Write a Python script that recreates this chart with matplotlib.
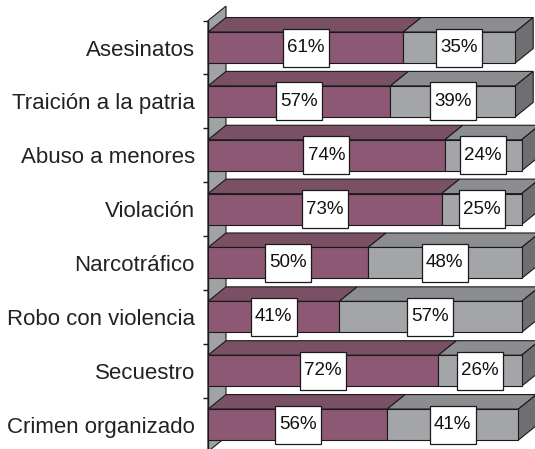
import matplotlib
matplotlib.use("Agg")
import matplotlib.pyplot as plt
from matplotlib.patches import Polygon, Rectangle

categories = ["Asesinatos", "Traición a la patria", "Abuso a menores", "Violación",
              "Narcotráfico", "Robo con violencia", "Secuestro", "Crimen organizado"]
serie_a = [61, 57, 74, 73, 50, 41, 72, 56]
serie_b = [35, 39, 24, 25, 48, 57, 26, 41]

plt.rcParams['font.family'] = ['Liberation Sans', 'DejaVu Sans']

W, H = 535, 449
fig = plt.figure(figsize=(W / 100, H / 100), dpi=100)
fig.patch.set_facecolor('white')

# plot area (front plane) in pixels
left_px, right_px = 208, 528
top_px, bot_px = 20.6, 451.5
ax = fig.add_axes([left_px / W, (H - bot_px) / H, (right_px - left_px) / W, (bot_px - top_px) / H])
ax.set_xlim(0, 100)
n = len(categories)
ax.set_ylim(n - 0.5, -0.5)
ax.set_facecolor('none')

px_x = (right_px - left_px) / 100.0
px_y = (bot_px - top_px) / n
dx = 18 / px_x
dy = -14.5 / px_y
h = 31 / px_y

c_a, c_a_top = '#8C5874', '#7A5064'
c_b, c_b_top, c_side = '#A3A5A8', '#8C8D90', '#6E6F71'
edge = '#1a1a1a'
lw = 0.8

# left wall
wall = Polygon([(0, -0.5), (0, n - 0.5), (dx, n - 0.5 + dy), (dx, -0.5 + dy)],
               closed=True, facecolor='#A0A2A5', edgecolor=edge, lw=lw, clip_on=False, zorder=1)
ax.add_patch(wall)

for i, (a, b) in enumerate(zip(serie_a, serie_b)):
    yt = i - h / 2
    yb = i + h / 2
    z = 2 + i
    ax.add_patch(Polygon([(0, yt), (a, yt), (a + dx, yt + dy), (dx, yt + dy)], closed=True,
                         facecolor=c_a_top, edgecolor=edge, lw=lw, clip_on=False, zorder=z))
    ax.add_patch(Polygon([(a, yt), (a + b, yt), (a + b + dx, yt + dy), (a + dx, yt + dy)], closed=True,
                         facecolor=c_b_top, edgecolor=edge, lw=lw, clip_on=False, zorder=z))
    ax.add_patch(Polygon([(a + b, yt), (a + b, yb), (a + b + dx, yb + dy), (a + b + dx, yt + dy)], closed=True,
                         facecolor=c_side, edgecolor=edge, lw=lw, clip_on=False, zorder=z))
    ax.barh(i, a, height=h, left=0, color=c_a, edgecolor=edge, lw=lw, clip_on=False, zorder=z)
    ax.barh(i, b, height=h, left=a, color=c_b, edgecolor=edge, lw=lw, clip_on=False, zorder=z)
    bw = 46 / px_x
    bh = 38 / px_y
    for cx, v in ((a / 2, a), (a + b / 2, b)):
        ax.add_patch(Rectangle((cx - bw / 2, i - bh / 2), bw, bh, facecolor='white',
                               edgecolor=edge, lw=0.9, clip_on=False, zorder=z + 0.5))
        ax.text(cx, i, f"{v}%", ha='center', va='center', fontsize=13.5, color='#111111',
                zorder=z + 0.6, clip_on=False)

for s in ['top', 'right', 'bottom']:
    ax.spines[s].set_visible(False)
ax.spines['left'].set_color(edge)
ax.spines['left'].set_linewidth(1.0)
ax.spines['left'].set_zorder(1.5)
ax.set_xticks([])
ax.set_yticks([k - 0.5 for k in range(n + 1)])
ax.set_yticklabels([])
ax.tick_params(axis='y', which='major', length=3.6, width=1.0, color=edge)
ax.set_yticks(list(range(n)), minor=True)
ax.set_yticklabels(categories, minor=True, fontsize=16, color='#222222')
ax.tick_params(axis='y', which='minor', length=0, pad=9.4)

fig.savefig('out.png', dpi=100, facecolor='white')
